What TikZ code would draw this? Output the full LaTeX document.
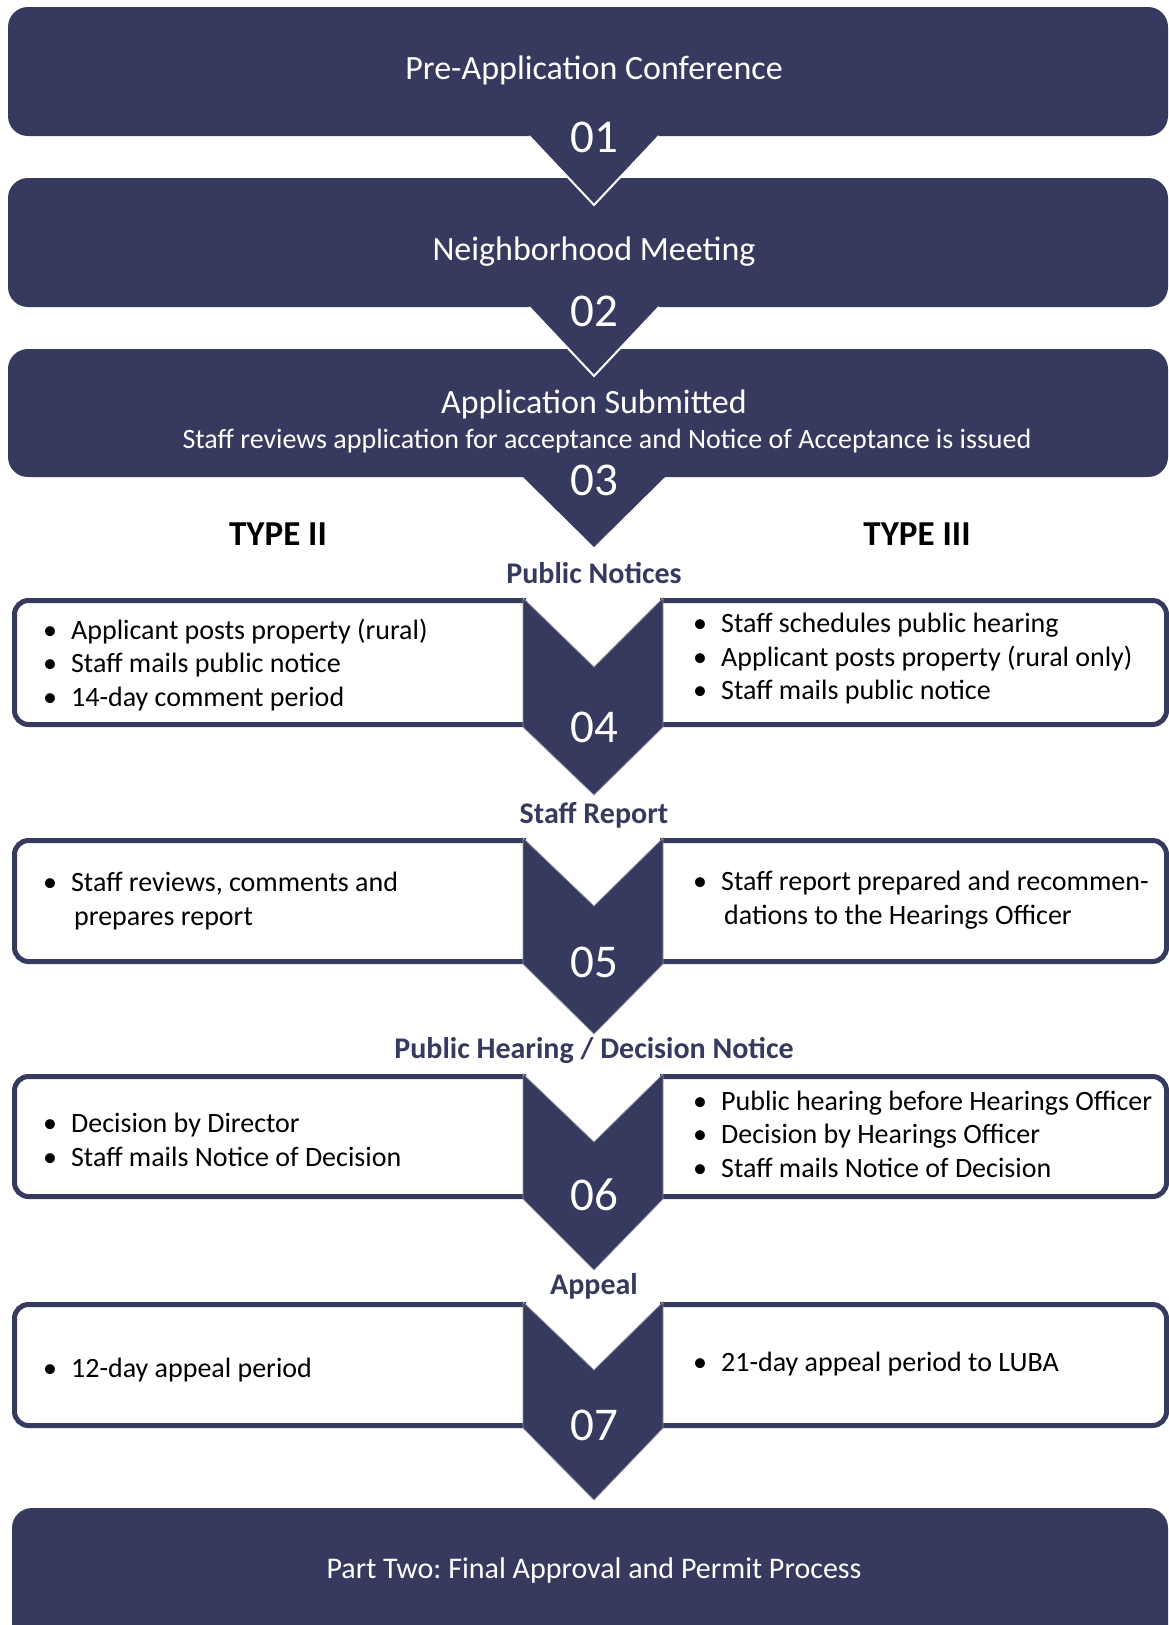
\documentclass[tikz,border=0pt]{standalone}
\usepackage{fontspec}
\setmainfont{Carlito}
\usepackage{tikz}
\usetikzlibrary{positioning}

\definecolor{navy}{RGB}{53,58,94}
\newcommand{\itm}{\textbullet\hspace{14pt}}
\frenchspacing

\begin{document}
\begin{tikzpicture}[x=1pt, y=-1pt,
  every node/.style = {inner sep=0pt, align=center},
  stage/.style = {fill=navy, rounded corners=20pt},
  sidebox/.style = {draw=navy, line width=5pt, fill=white, rounded corners=14pt},
  chevron/.style = {fill=navy, draw=navy!55!white, line width=0.8pt},
  stagetext/.style = {text=white, font=\fontsize{34}{40}\selectfont},
  stepnum/.style = {text=white, font=\fontsize{47}{52}\selectfont},
  rowhead/.style = {text=navy, font=\bfseries\fontsize{30}{36}\selectfont},
  typehead/.style = {font=\bfseries\fontsize{35}{40}\selectfont},
  bullets/.style = {anchor=west, align=left, font=\fontsize{28}{33.5}\selectfont}]
  \useasboundingbox (0,0) rectangle (1169,1625);

  % top stages
  \fill[stage] (8,7) rectangle (1168,136);
  \fill[stage] (8,178) rectangle (1168,307);
  \fill[navy] (529,136) -- (594,205) -- (659,136) -- cycle;
  \draw[white, line width=2pt] (529,136) -- (594,205) -- (659,136);
  \fill[stage] (8,349) rectangle (1168,477);
  \fill[navy] (529,307) -- (594,376) -- (659,307) -- cycle;
  \draw[white, line width=2pt] (529,307) -- (594,376) -- (659,307);
  \fill[navy] (523,477) -- (594,547) -- (665,477) -- cycle;

  \node[stagetext] (pre) at (594,70) {Pre-Application Conference};
  \node[stepnum] (n01) at (594,137) {01};
  \node[stagetext] (nbhd) at (594,252) {Neighborhood Meeting};
  \node[stepnum] (n02) at (594,311) {02};
  \node[stagetext] (submit) at (594,404) {Application Submitted};
  \node[stagetext, font=\fontsize{28}{32}\selectfont] (accept) at (607,441)
    {Staff reviews application for acceptance and Notice of Acceptance is issued};
  \node[stepnum] (n03) at (594,480) {03};

  \node[typehead] (type2) at (278,534) {TYPE II};
  \node[typehead] (type3) at (917,534) {TYPE III};

  % row 04
  \node[rowhead] (notices) at (594,573) {Public Notices};
  \draw[sidebox] (526,600.5) -| (14.5,662) |- (526,724.5);
  \draw[sidebox] (660,600.5) -| (1166.5,662) |- (660,724.5);
  \draw[chevron] (523,598) -- (594,667) -- (663,598) -- (663,727) -- (594,795) -- (523,727) -- cycle;
  \node[stepnum] (n04) at (594,727) {04};
  \node[bullets] (l04) at (43,665) {\itm Applicant posts property (rural)\\ \itm Staff mails public notice\\ \itm 14-day comment period};
  \node[bullets] (r04) at (693,659) {\itm Staff schedules public hearing\\ \itm Applicant posts property (rural only)\\ \itm Staff mails public notice};

  % row 05
  \node[rowhead] (staffrep) at (594,815) {Staff Report};
  \draw[sidebox] (526,840.5) -| (14.5,901) |- (526,961.5);
  \draw[sidebox] (660,840.5) -| (1166.5,901) |- (660,961.5);
  \draw[chevron] (523,838) -- (594,906) -- (663,838) -- (663,964) -- (594,1034) -- (523,964) -- cycle;
  \node[stepnum] (n05) at (594,962) {05};
  \node[bullets] (l05) at (43,901) {\itm Staff reviews, comments and\\ \phantom{\itm}\hspace{3pt}prepares report};
  \node[bullets] (r05) at (693,900) {\itm Staff report prepared and recommen-\\ \phantom{\itm}\hspace{3pt}dations to the Hearings Officer};

  % row 06
  \node[rowhead] (hearing) at (594,1050) {Public Hearing / Decision Notice};
  \draw[sidebox] (526,1076.5) -| (14.5,1136) |- (526,1196.5);
  \draw[sidebox] (660,1076.5) -| (1166.5,1136) |- (660,1196.5);
  \draw[chevron] (523,1074) -- (594,1142) -- (663,1074) -- (663,1199) -- (594,1270) -- (523,1199) -- cycle;
  \node[stepnum] (n06) at (594,1195) {06};
  \node[bullets] (l06) at (43,1140) {\itm Decision by Director\\ \itm Staff mails Notice of Decision};
  \node[bullets] (r06) at (693,1134) {\itm Public hearing before Hearings Officer\\ \itm Decision by Hearings Officer\\ \itm Staff mails Notice of Decision};

  % row 07
  \node[rowhead] (appeal) at (594,1286) {Appeal};
  \draw[sidebox] (526,1304.5) -| (14.5,1365) |- (526,1425.5);
  \draw[sidebox] (660,1304.5) -| (1166.5,1365) |- (660,1425.5);
  \draw[chevron] (523,1302) -- (594,1370) -- (663,1302) -- (663,1428) -- (594,1500) -- (523,1428) -- cycle;
  \node[stepnum] (n07) at (594,1425) {07};
  \node[bullets] (l07) at (43,1370) {\itm 12-day appeal period};
  \node[bullets] (r07) at (693,1364) {\itm 21-day appeal period to LUBA};

  % last stage
  \fill[stage] (12,1508) rectangle (1168,1660);
  \node[stagetext, font=\fontsize{30}{36}\selectfont] (part2) at (594,1570) {Part Two: Final Approval and Permit Process};
\end{tikzpicture}
\end{document}
